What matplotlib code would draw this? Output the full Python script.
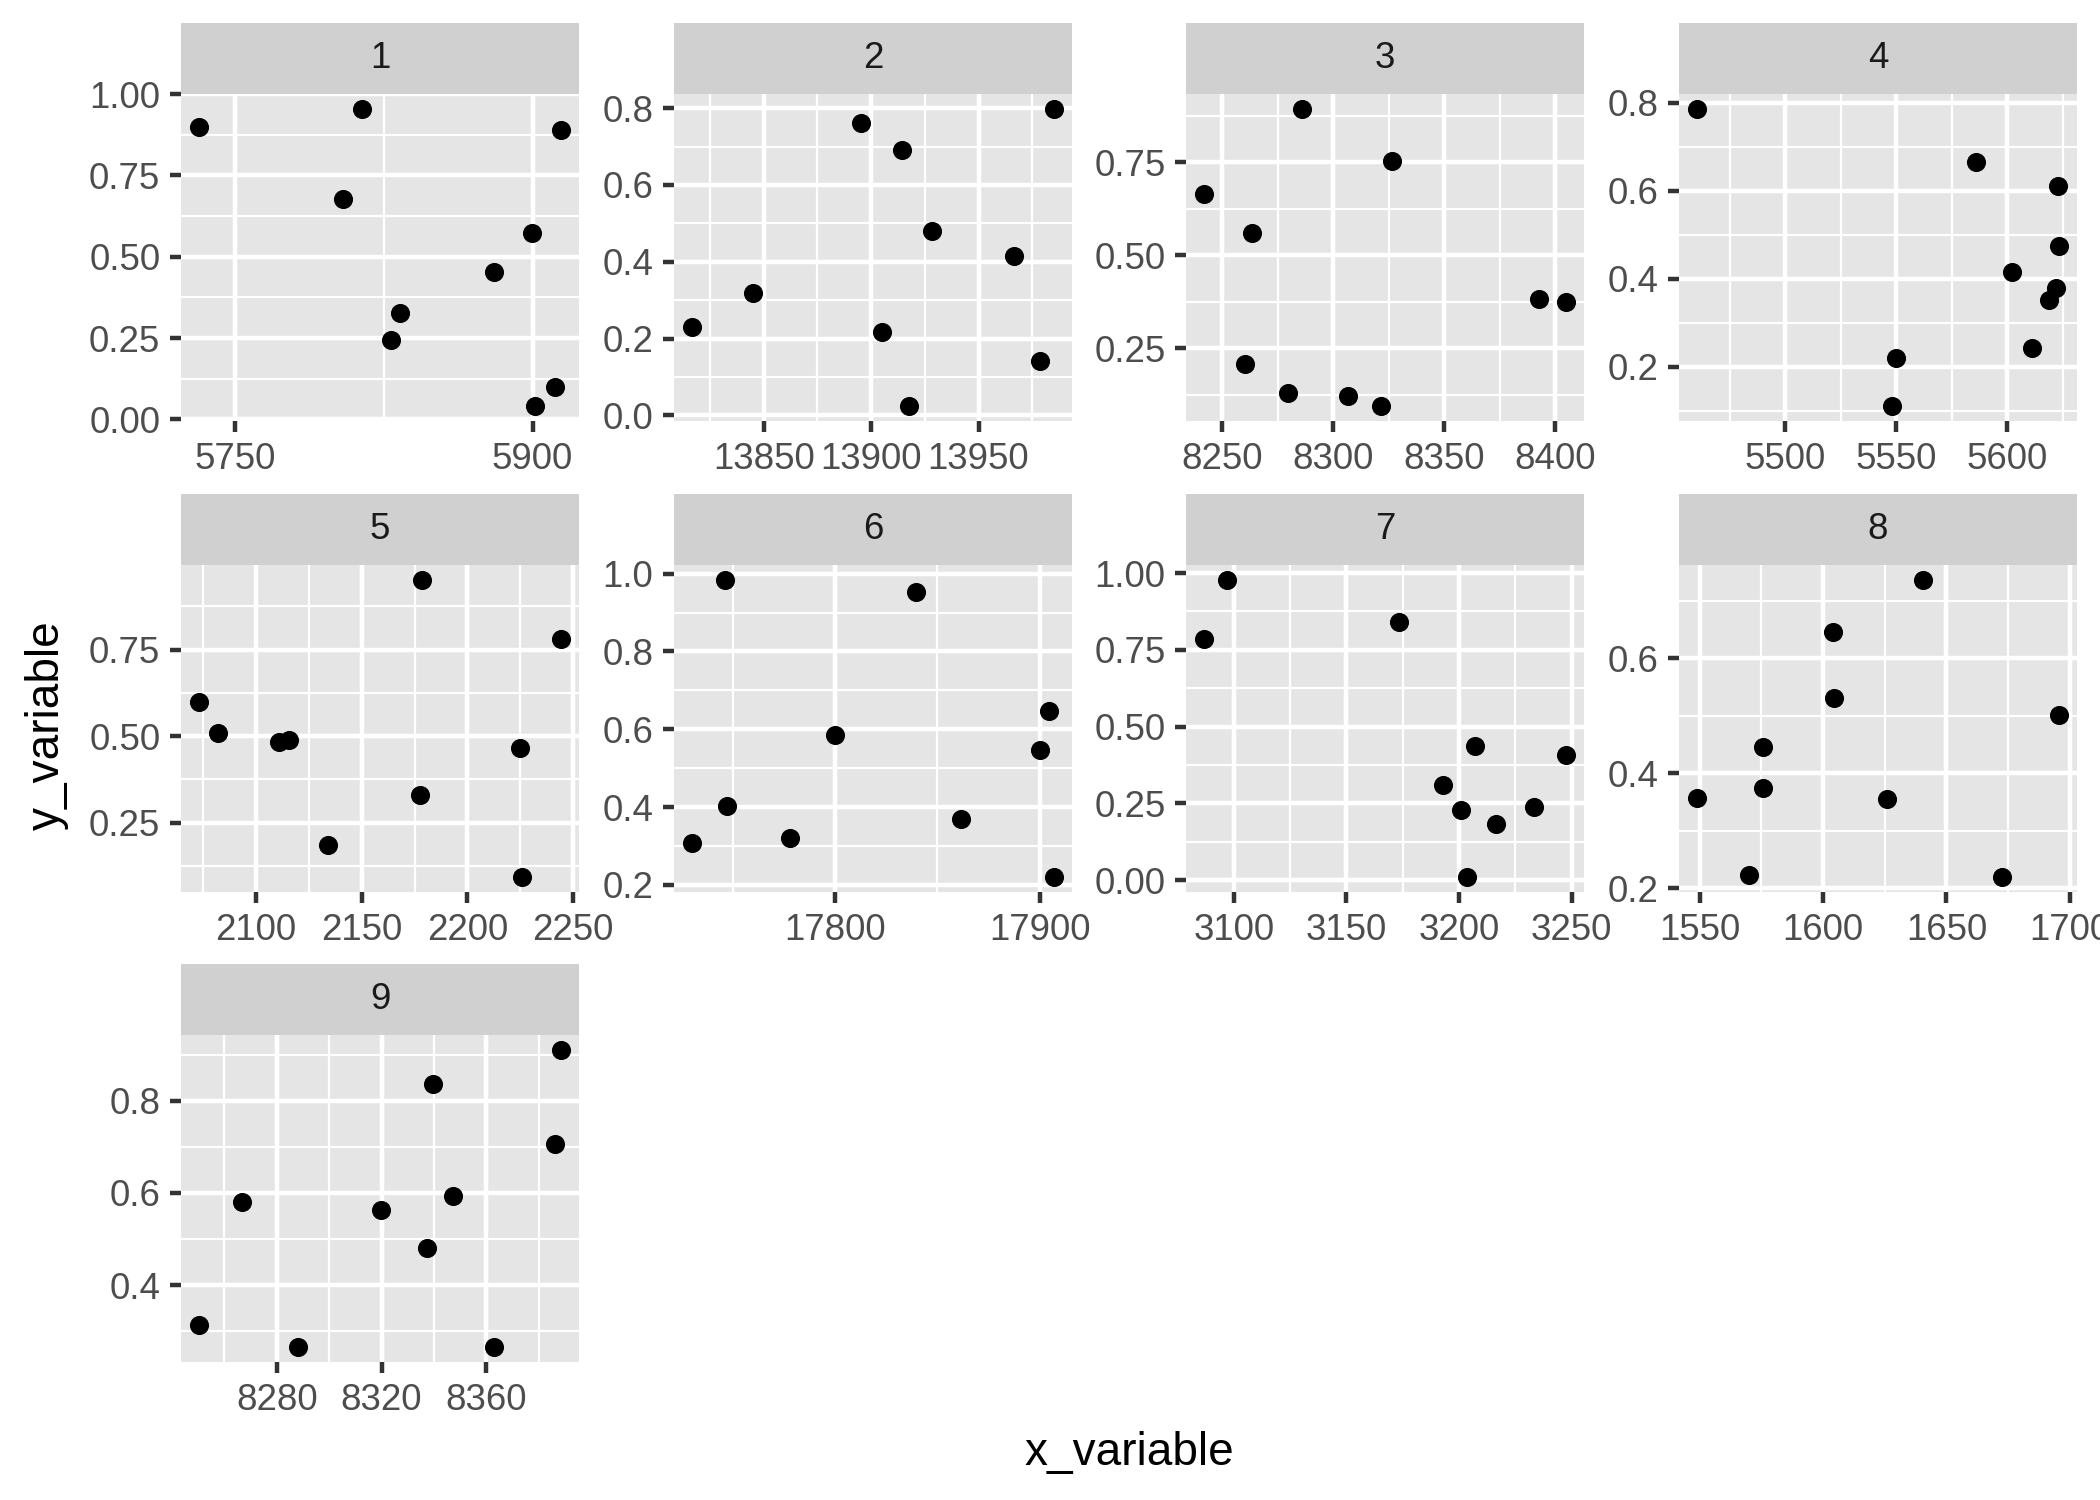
import numpy as np
import matplotlib
matplotlib.use("Agg")
import matplotlib.pyplot as plt

plt.rcParams['font.family'] = ['Liberation Sans', 'DejaVu Sans']

# facet labels
groups = ['1', '2', '3', '4', '5', '6', '7', '8', '9']

# x_variable per facet
x_values = [
  [5731.8, 5814.2, 5804.6, 5833.1, 5828.4, 5880.7, 5899.7, 5914.3, 5911.1, 5901.3],
  [13816.6, 13844.9, 13895.3, 13914.4, 13905.2, 13928.1, 13917.7, 13966.7, 13985.1, 13978.8],
  [8241.9, 8263.4, 8286.2, 8326.3, 8260.4, 8279.6, 8306.7, 8321.4, 8392.9, 8404.8],
  [5460.3, 5586.1, 5622.8, 5623.3, 5602.3, 5622.2, 5618.9, 5611.1, 5550.0, 5548.3],
  [2073.0, 2082.0, 2111.0, 2115.7, 2134.1, 2178.5, 2177.8, 2224.8, 2226.0, 2244.3],
  [17730.1, 17746.2, 17747.2, 17778.0, 17800.0, 17839.4, 17861.7, 17900.3, 17904.7, 17907.0],
  [3086.8, 3097.0, 3173.2, 3192.7, 3200.7, 3206.9, 3203.4, 3216.3, 3233.3, 3247.4],
  [1548.9, 1570.0, 1575.8, 1575.8, 1603.9, 1604.5, 1640.6, 1625.7, 1672.6, 1695.6],
  [8250.3, 8266.8, 8287.9, 8319.6, 8337.3, 8339.6, 8347.3, 8362.8, 8386.4, 8388.5],
]

# y_variable per facet
y_values = [
  [0.899, 0.954, 0.677, 0.326, 0.245, 0.452, 0.572, 0.890, 0.101, 0.041],
  [0.231, 0.318, 0.760, 0.692, 0.217, 0.479, 0.024, 0.416, 0.798, 0.142],
  [0.664, 0.560, 0.894, 0.753, 0.207, 0.129, 0.123, 0.095, 0.384, 0.375],
  [0.786, 0.666, 0.611, 0.474, 0.416, 0.380, 0.352, 0.244, 0.221, 0.111],
  [0.599, 0.510, 0.482, 0.488, 0.187, 0.951, 0.330, 0.466, 0.093, 0.781],
  [0.307, 0.984, 0.404, 0.320, 0.585, 0.954, 0.369, 0.548, 0.647, 0.220],
  [0.785, 0.978, 0.842, 0.311, 0.230, 0.438, 0.010, 0.183, 0.239, 0.409],
  [0.357, 0.223, 0.445, 0.375, 0.647, 0.532, 0.737, 0.355, 0.219, 0.501],
  [0.313, 0.581, 0.265, 0.564, 0.481, 0.837, 0.594, 0.265, 0.706, 0.911],
]

# axis breaks shown in each facet
x_breaks = [
  [5750, 5900],
  [13850, 13900, 13950],
  [8250, 8300, 8350, 8400],
  [5500, 5550, 5600],
  [2100, 2150, 2200, 2250],
  [17800, 17900],
  [3100, 3150, 3200, 3250],
  [1550, 1600, 1650, 1700],
  [8280, 8320, 8360],
]
y_breaks = [
  [0.0, 0.25, 0.5, 0.75, 1.0],
  [0.0, 0.2, 0.4, 0.6, 0.8],
  [0.25, 0.5, 0.75],
  [0.2, 0.4, 0.6, 0.8],
  [0.25, 0.5, 0.75],
  [0.2, 0.4, 0.6, 0.8, 1.0],
  [0.0, 0.25, 0.5, 0.75, 1.0],
  [0.2, 0.4, 0.6],
  [0.4, 0.6, 0.8],
]

PANEL_BG = '#E5E5E5'
STRIP_BG = '#D0D0D0'
W, H = 2100, 1500


def expand(v):
  lo, hi = min(v), max(v)
  d = (hi - lo)*0.05
  return lo - d, hi + d


def minorBreaks(breaks, lim):
  step = breaks[1] - breaks[0]
  mids = [b - step/2 for b in breaks] + [breaks[-1] + step/2]
  return [m for m in mids if lim[0] <= m <= lim[1]]


def fmt(breaks):
  for d in range(4):
    if all(abs(round(b, d) - b) < 1e-9 for b in breaks):
      break
  return ['{0:.{1}f}'.format(b, d) for b in breaks]


def rect(left, top, w, h):
  return [left/W, 1 - (top + h)/H, w/W, h/H]


fig = plt.figure(figsize=(7, 5), dpi=300)

colLeft = [181, 674, 1186, 1679]
rowTop  = [94, 565, 1035]
pw, ph, sh = 398, 327, 71

for i, g in enumerate(groups):
  r, c = divmod(i, 4)
  left, top = colLeft[c], rowTop[r]
  ax = fig.add_axes(rect(left, top, pw, ph))
  ax.set_facecolor(PANEL_BG)
  ax.scatter(x_values[i], y_values[i], s=21, c='black', linewidths=0, zorder=3)
  xl, yl = expand(x_values[i]), expand(y_values[i])
  ax.set_xlim(xl)
  ax.set_ylim(yl)
  ax.set_xticks(x_breaks[i])
  ax.set_xticklabels(fmt(x_breaks[i]))
  ax.set_yticks(y_breaks[i])
  ax.set_yticklabels(fmt(y_breaks[i]))
  ax.set_xticks(minorBreaks(x_breaks[i], xl), minor=True)
  ax.set_yticks(minorBreaks(y_breaks[i], yl), minor=True)
  ax.grid(which='major', color='white', linewidth=1.07)
  ax.grid(which='minor', color='white', linewidth=0.53)
  ax.set_axisbelow(True)
  for s in ax.spines.values():
    s.set_visible(False)
  ax.tick_params(which='major', length=2.75, width=1.07, color='#333333',
                 labelsize=8.8, labelcolor='#4D4D4D', pad=2.2)
  ax.tick_params(which='minor', length=0)
  # facet strip
  sx = fig.add_axes(rect(left, top - sh, pw, sh))
  sx.set_facecolor(STRIP_BG)
  sx.set_xticks([]); sx.set_yticks([])
  for s in sx.spines.values():
    s.set_visible(False)
  sx.text(0.5, 0.5, g, ha='center', va='center', fontsize=8.8, color='#1A1A1A',
          transform=sx.transAxes)

fig.text(1129/W, 1 - 1453/H, 'x_variable', ha='center', va='center', fontsize=11)
fig.text(47/W, 1 - 725/H, 'y_variable', ha='center', va='center', fontsize=11, rotation=90)

fig.savefig('out.png', dpi=300)
